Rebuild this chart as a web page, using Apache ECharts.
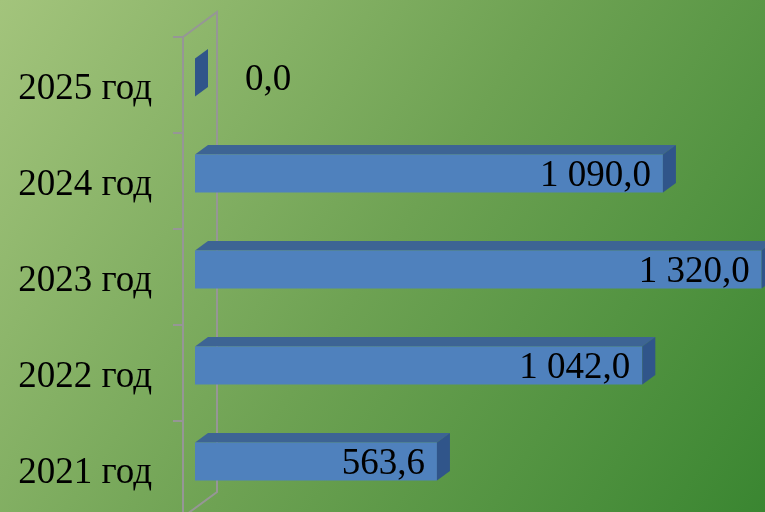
<!DOCTYPE html>
<html>
<head>
<meta charset="utf-8">
<script src="https://cdn.jsdelivr.net/npm/echarts@6/dist/echarts.min.js"></script>
<style>
html,body{margin:0;padding:0;background:#6da153;}
#chart{width:765px;height:512px;}
</style>
</head>
<body>
<div id="chart"></div>
<script>
const categories = ['2021 год', '2022 год', '2023 год', '2024 год', '2025 год'];
const values = [563.6, 1042.0, 1320.0, 1090.0, 0.0];

const FONT = '"Liberation Serif", "Times New Roman", serif';
const FACE = '#4f81bd', TOP = '#3d6494', SIDE = '#30558a';
const DEPTH_X = 13, DEPTH_Y = 9.5, OFF_X = 12, OFF_Y = -7.5, BAR_H = 38;

function fmt(v) {
  const s = v.toFixed(1).split('.');
  return s[0].replace(/\B(?=(\d{3})+(?!\d))/g, ' ') + ',' + s[1];
}

const chart = echarts.init(document.getElementById('chart'), null, {renderer: 'canvas'});

const option = {
  animation: false,
  grid: {left: 183, top: 37, width: 601, height: 480, containLabel: false, outerBoundsMode: 'none'},
  xAxis: {type: 'value', min: 0, max: 1400, show: false},
  yAxis: {
    type: 'category',
    data: categories,
    axisLine: {show: true, lineStyle: {color: '#969696', width: 2}},
    axisTick: {show: true, length: 10, inside: false, lineStyle: {color: '#969696', width: 2}},
    splitLine: {show: false},
    axisLabel: {color: '#000', fontFamily: FONT, fontSize: 37, margin: 31, verticalAlign: 'top', lineHeight: 8}
  },
  graphic: [],
  series: [{
    type: 'custom',
    data: values.map((v, i) => [v, i]),
    encode: {x: 0, y: 1},
    renderItem: function (params, api) {
      const v = api.value(0), idx = api.value(1);
      const s = api.coord([0, idx]), e = api.coord([v, idx]);
      const x0 = s[0] + OFF_X, x1 = e[0] + OFF_X;
      const cy = s[1] + OFF_Y;
      const top = cy - BAR_H / 2, bot = cy + BAR_H / 2;
      const children = [];
      if (x1 - x0 > 0.5) {
        children.push({type: 'polygon', shape: {points: [[x0, top], [x0 + DEPTH_X, top - DEPTH_Y], [x1 + DEPTH_X, top - DEPTH_Y], [x1, top]]}, style: {fill: TOP}});
        children.push({type: 'rect', shape: {x: x0, y: top, width: x1 - x0, height: BAR_H}, style: {fill: FACE}});
      }
      children.push({type: 'polygon', shape: {points: [[x1, top], [x1 + DEPTH_X, top - DEPTH_Y], [x1 + DEPTH_X, bot - DEPTH_Y], [x1, bot]]}, style: {fill: SIDE}});
      const inside = (x1 - x0) > 120;
      children.push({
        type: 'text',
        style: {
          text: fmt(v),
          x: inside ? x1 - 12 : x1 + 50,
          y: cy + 3,
          align: inside ? 'right' : 'left',
          verticalAlign: 'middle',
          fill: '#000',
          font: '37px ' + FONT
        }
      });
      return {type: 'group', children: children};
    }
  }]
};

chart.setOption(option);

// background and 3D wall derived from the grid's axis geometry
const c0 = chart.convertToPixel({gridIndex: 0}, [0, 0]);
const c4 = chart.convertToPixel({gridIndex: 0}, [0, categories.length - 1]);
const band = (c0[1] - c4[1]) / (categories.length - 1);
const yTop = c4[1] - band / 2, yBot = c0[1] + band / 2, xF = c0[0];
const WX = 34, WY = 25;
const wallStyle = {stroke: '#969696', lineWidth: 2, fill: null};
chart.setOption({
  graphic: [
    {type: 'rect', z: -100, silent: true, shape: {x: 0, y: 0, width: 765, height: 512},
      style: {fill: new echarts.graphic.LinearGradient(0, 0, 1, 1, [
        {offset: 0, color: '#a3c47c'},
        {offset: 0.5, color: '#6ea253'},
        {offset: 1, color: '#3a8631'}
      ])}},
    {type: 'polyline', z: -50, silent: true,
      shape: {points: [[xF, yTop], [xF + WX, yTop - WY], [xF + WX, yBot - WY], [xF, yBot]]},
      style: wallStyle}
  ]
});
</script>
</body>
</html>
